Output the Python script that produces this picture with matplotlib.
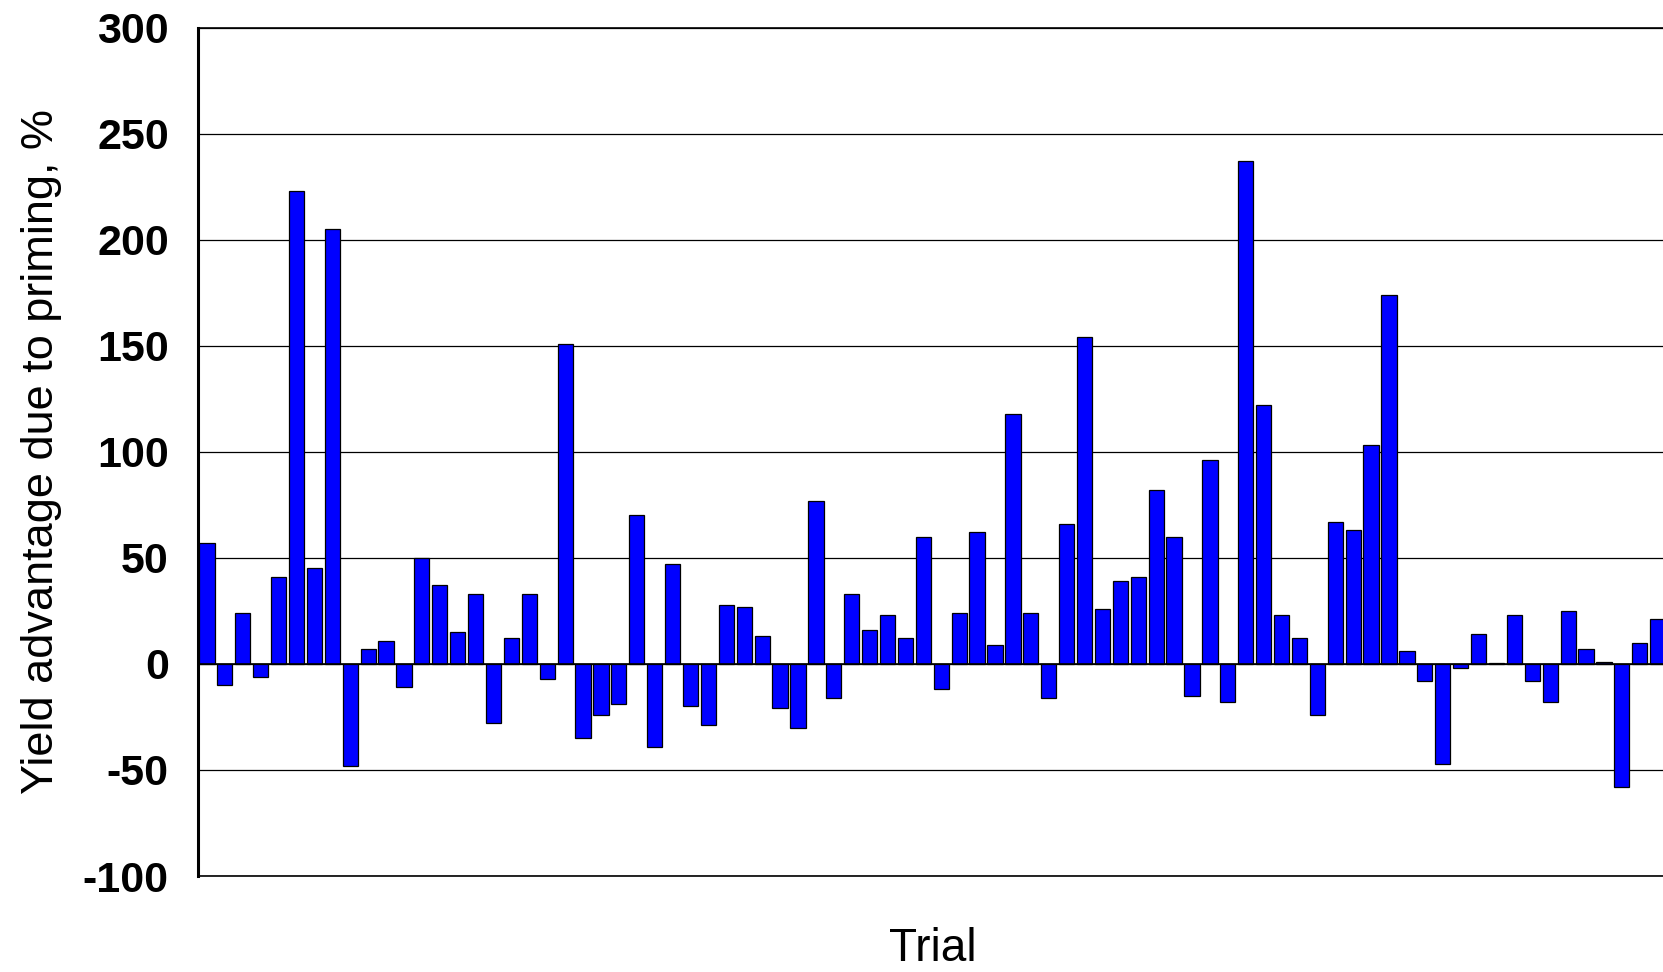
import matplotlib
matplotlib.use("Agg")
import matplotlib.pyplot as plt
import numpy as np

# Yield advantage (%) per trial, in trial order
yield_advantage = [
    57, -10, 24, -6, 41, 223, 45, 205, -48, 7,
    11, -11, 50, 37, 15, 33, -28, 12, 33, -7,
    151, -35, -24, -19, 70, -39, 47, -20, -29, 28,
    27, 13, -21, -30, 77, -16, 33, 16, 23, 12,
    60, -12, 24, 62, 9, 118, 24, -16, 66, 154,
    26, 39, 41, 82, 60, -15, 96, -18, 237, 122,
    23, 12, -24, 67, 63, 103, 174, 6, -8, -47,
    -2, 14, 0.5, 23, -8, -18, 25, 7, 1, -58,
    10, 21,
]
trials = np.arange(1, len(yield_advantage) + 1)

y_ticks = [-100, -50, 0, 50, 100, 150, 200, 250, 300]

plt.rcParams["axes.unicode_minus"] = False

W, H = 1663, 972
fig = plt.figure(figsize=(W / 100, H / 100), dpi=100)
left_px, right_px, top_px, bottom_px = 198, 1668, 27.6, 876
ax = fig.add_axes([left_px / W, 1 - bottom_px / H,
                   (right_px - left_px) / W, (bottom_px - top_px) / H])

ax.bar(trials, yield_advantage, width=0.85, color="#0000FF",
       edgecolor="black", linewidth=0.9, zorder=3)

slot = 17.91
ax.set_xlim(0.5, 0.5 + (right_px - left_px) / slot)
ax.set_ylim(-100, 300)
ax.set_yticks(y_ticks)
ax.set_yticklabels([str(t) for t in y_ticks], fontfamily="Liberation Sans",
                   fontweight="bold", fontsize=31)
ax.set_xticks([])
ax.tick_params(axis="y", length=0, pad=21)

ax.grid(axis="y", color="black", linewidth=0.9, zorder=1)
ax.axhline(0, color="black", linewidth=1.2, zorder=4)

for side in ("top", "bottom"):
    ax.spines[side].set_linewidth(1.2)
ax.spines["left"].set_linewidth(2.2)
ax.spines["right"].set_visible(False)

fig.text(42 / W, 1 - 451 / H, "Yield advantage due to priming, %",
         rotation=90, ha="center", va="center", fontsize=32.5,
         family=["Liberation Sans", "DejaVu Sans"])
fig.text(933 / W, 1 - 961 / H, "Trial", ha="center", va="baseline",
         fontsize=33, family=["Liberation Sans", "DejaVu Sans"])

fig.savefig("out.png", dpi=100, facecolor="white")
